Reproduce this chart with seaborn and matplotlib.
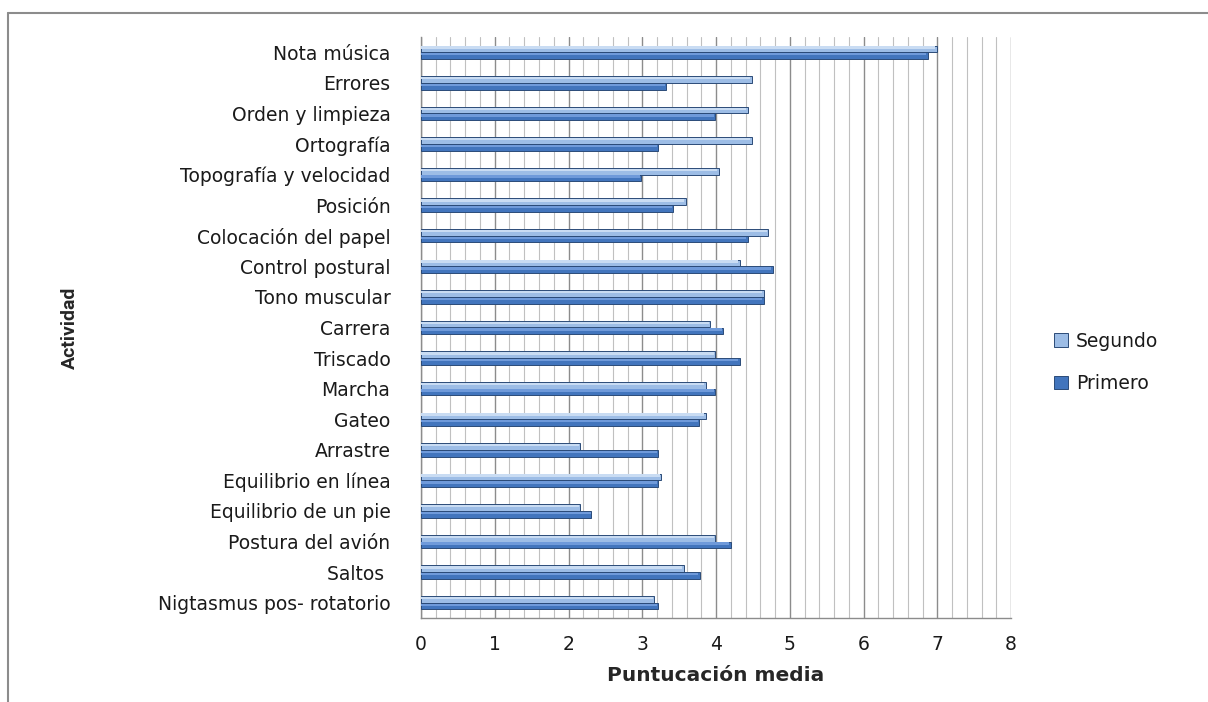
#!/usr/bin/env python3
import matplotlib
matplotlib.use("Agg")
import matplotlib.pyplot as plt
import matplotlib.lines as mlines
import numpy as np
import pandas as pd
import seaborn as sns

actividades = [
    "Nota música", "Errores", "Orden y limpieza", "Ortografía",
    "Topografía y velocidad", "Posición", "Colocación del papel",
    "Control postural", "Tono muscular", "Carrera", "Triscado", "Marcha",
    "Gateo", "Arrastre", "Equilibrio en línea", "Equilibrio de un pie",
    "Postura del avión", "Saltos ", "Nigtasmus pos- rotatorio",
]
segundo = [7.00, 4.49, 4.43, 4.49, 4.04, 3.59, 4.71, 4.32, 4.65, 3.92,
           3.99, 3.86, 3.86, 2.15, 3.26, 2.15, 3.99, 3.56, 3.16]
primero = [6.88, 3.32, 3.99, 3.21, 2.98, 3.42, 4.43, 4.77, 4.65, 4.10,
           4.32, 3.99, 3.77, 3.21, 3.21, 2.31, 4.20, 3.78, 3.21]
series = ["Segundo", "Primero"]
x_ticks = [0, 1, 2, 3, 4, 5, 6, 7, 8]

df = pd.DataFrame({
    "Actividad": actividades * 2,
    "Curso": ["Segundo"] * len(actividades) + ["Primero"] * len(actividades),
    "Puntuacion": segundo + primero,
})

sns.set_style("white")
plt.rcParams["font.family"] = ["DejaVu Sans"]
plt.rcParams["text.color"] = "#1A1A1A"
plt.rcParams["xtick.color"] = "#1A1A1A"
plt.rcParams["ytick.color"] = "#1A1A1A"

fig = plt.figure(figsize=(12.08, 7.02), dpi=100)
ax = fig.add_axes([421 / 1208, 1 - 618 / 702, 590 / 1208, (618 - 37) / 702])

palette = {"Segundo": "#9DBDE6", "Primero": "#4275BD"}
highlight = {"Segundo": "#C9DCF3", "Primero": "#6F9ADA"}
sns.barplot(data=df, y="Actividad", x="Puntuacion", hue="Curso",
            hue_order=series, order=actividades, palette=palette,
            orient="h", width=0.44, saturation=1, edgecolor="#2B4B78",
            linewidth=0.7, ax=ax, legend=False, zorder=3)

# light upper stripe on each bar (Excel bevel look)
for p, name in zip(ax.patches, [s for s in series for _ in actividades]):
    x0, y0 = p.get_x(), p.get_y()
    w, h = p.get_width(), p.get_height()
    ax.add_patch(plt.Rectangle((x0, y0 + h * 0.12), w * 0.995, h * 0.35,
                               facecolor=highlight[name], lw=0, zorder=4))

ax.set_xlim(0, 8)
for v in np.arange(0, 8.01, 0.2):
    major = abs(v - round(v)) < 1e-6
    ax.axvline(v, color="#8C8C8C" if major else "#C0C0C0",
               lw=1.0 if major else 0.8, zorder=1)

ax.set_xticks(x_ticks)
ax.set_xticklabels([str(t) for t in x_ticks], fontsize=13.5)
ax.tick_params(axis="x", length=5, color="#8C8C8C", width=1, pad=7)
ax.tick_params(axis="y", length=0, pad=22, labelsize=13.5)

for s in ["top", "right"]:
    ax.spines[s].set_visible(False)
for s in ["left", "bottom"]:
    ax.spines[s].set_color("#8C8C8C")
    ax.spines[s].set_linewidth(1.0)

ax.set_xlabel("Puntucación media", fontsize=14.5, fontweight="bold", labelpad=9)
ax.set_ylabel("Actividad", fontsize=14, fontweight="bold",
              family=["Liberation Sans Narrow", "Roboto", "DejaVu Sans"])
ax.yaxis.set_label_coords(-0.58, 0.5)

handles = [
    plt.Rectangle((0, 0), 1, 1, facecolor=palette[s], edgecolor="#2B4B78", lw=0.7)
    for s in series
]
ax.legend(handles, series, frameon=False, loc="center left",
          bbox_to_anchor=(1.045, 0.44), fontsize=13.5, handlelength=0.75,
          handleheight=0.75, labelspacing=1.25, handletextpad=0.4)

# chart border
fig.add_artist(mlines.Line2D([8 / 1208, 8 / 1208], [0, 1 - 13 / 702],
                             color="#8C8C8C", lw=1.5))
fig.add_artist(mlines.Line2D([8 / 1208, 1], [1 - 13 / 702, 1 - 13 / 702],
                             color="#8C8C8C", lw=1.5))

fig.savefig("out.png", dpi=100)
